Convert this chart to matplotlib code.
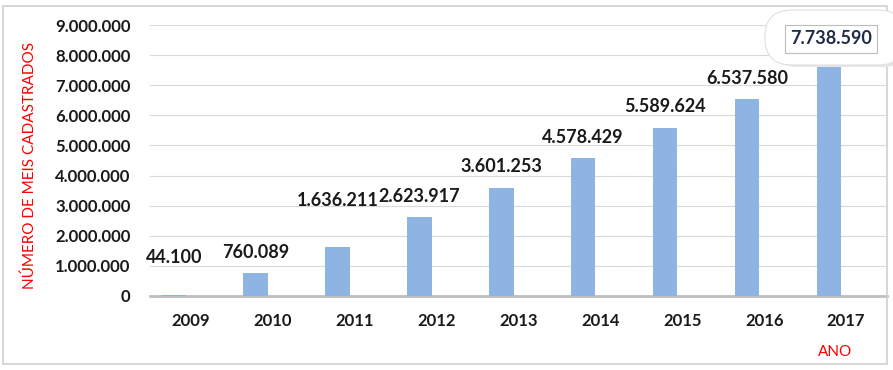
import matplotlib.pyplot as plt
from matplotlib.patches import FancyBboxPatch, Rectangle

anos = ['2009', '2010', '2011', '2012', '2013', '2014', '2015', '2016', '2017']
meis = [44100, 760089, 1636211, 2623917, 3601253, 4578429, 5589624, 6537580, 7738590]
rotulos = ['44.100', '760.089', '1.636.211', '2.623.917', '3.601.253',
           '4.578.429', '5.589.624', '6.537.580', '7.738.590']
yticks = [0, 1000000, 2000000, 3000000, 4000000, 5000000, 6000000, 7000000, 8000000, 9000000]
ytick_labels = ['0', '1.000.000', '2.000.000', '3.000.000', '4.000.000',
                '5.000.000', '6.000.000', '7.000.000', '8.000.000', '9.000.000']

plt.rcParams['font.family'] = ['Lato', 'DejaVu Sans']

fig = plt.figure(figsize=(8.93, 3.70), dpi=100)
ax = fig.add_axes([150 / 893, 74 / 370, 737 / 893, 271 / 370])

x = list(range(len(anos)))
xb = [i - 0.21 for i in x]   # barras deslocadas à esquerda (como no Excel)
ax.bar(xb, meis, width=0.30, color='#8EB4E3', zorder=3)

# deslocamento dos rótulos (pontos) acima das barras
offs = [27, 15, 33, 15, 15, 15, 15, 15, 15]
for i in range(len(anos) - 1):
    ax.annotate(rotulos[i], (xb[i], meis[i]), xytext=(0, offs[i]), textcoords='offset points',
                ha='center', va='center', fontsize=13, fontweight='bold', color='#1a1a1a')

ax.set_xlim(-0.5, len(anos) - 0.5)
ax.set_ylim(0, 9000000)
ax.set_yticks(yticks)
ax.set_yticklabels(ytick_labels)
ax.set_xticks(x)
ax.set_xticklabels(anos)
for lab in ax.get_xticklabels() + ax.get_yticklabels():
    lab.set_fontweight('bold')
    lab.set_fontsize(12)
    lab.set_color('#1a1a1a')
ax.tick_params(length=0, pad=14)
ax.tick_params(axis='x', pad=12)
ax.grid(axis='y', color='#d9d9d9', linewidth=0.8, zorder=0)
ax.set_axisbelow(True)
for s in ['top', 'right', 'left']:
    ax.spines[s].set_visible(False)
ax.spines['bottom'].set_color('#bfbfbf')
ax.spines['bottom'].set_linewidth(2)

fig.text(30 / 893, 1 - 165 / 370, 'NÚMERO DE MEIS CADASTRADOS', rotation=90,
         ha='center', va='center', color='red', fontsize=11)
fig.text(835 / 893, 1 - 352 / 370, 'ANO', ha='center', va='center', color='red', fontsize=11)

# moldura
fig.patches.append(Rectangle((3 / 893, 6 / 370), 884 / 893, 358 / 370, transform=fig.transFigure,
                             fill=False, edgecolor='#d0d0d0', linewidth=1.2, zorder=0))

# balão do último valor
fig.patches.append(FancyBboxPatch((770 / 893, 303 / 370), 140 / 893, 52 / 370,
                                  boxstyle='round,pad=0,rounding_size=0.03',
                                  transform=fig.transFigure, facecolor='#e6e6e6',
                                  edgecolor='none', zorder=9, mutation_aspect=893 / 370))
fig.patches.append(FancyBboxPatch((765 / 893, 305 / 370), 140 / 893, 55 / 370,
                                  boxstyle='round,pad=0,rounding_size=0.03',
                                  transform=fig.transFigure, facecolor='white',
                                  edgecolor='#e0e0e0', linewidth=0.8, zorder=10,
                                  mutation_aspect=893 / 370))
fig.text(831 / 893, 1 - 39 / 370, rotulos[-1], ha='center', va='center', fontsize=13,
         fontweight='bold', color='#1f2a44', zorder=11,
         bbox=dict(boxstyle='square,pad=0.3', facecolor='white', edgecolor='#bdbdbd', linewidth=0.8))

fig.savefig('out.png', dpi=100)
